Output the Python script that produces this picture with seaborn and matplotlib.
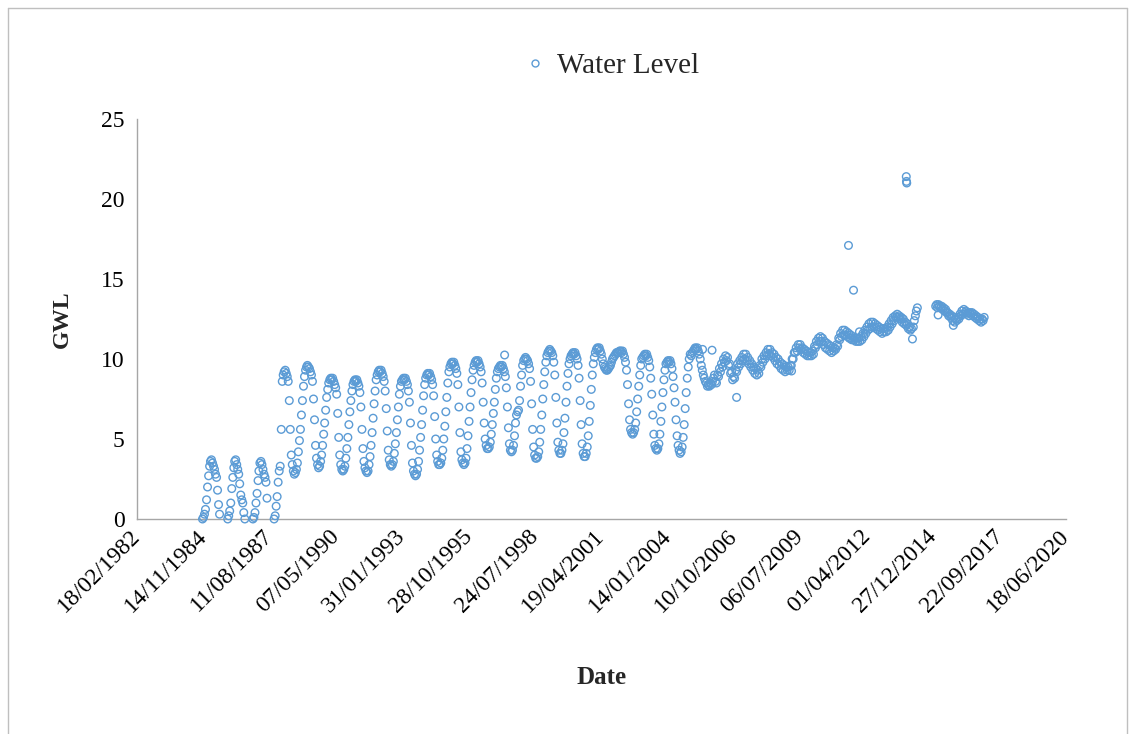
import matplotlib
matplotlib.use("Agg")
import matplotlib.pyplot as plt
from matplotlib.lines import Line2D
import numpy as np
import pandas as pd
import seaborn as sns

# ---------------- data (semi-monthly readings: 1st and 16th of each month) ----------------
READ_MONTHS = [1, 1, 2, 2, 3, 3, 4, 4, 5, 5, 6, 6, 7, 7, 8, 8, 9, 9, 10, 10, 11, 11, 12, 12]
READ_DAYS = [1, 16] * 12

gwl_1984 = [None] * 20 + [0.0, 0.1, 0.3, 0.6]
gwl_1985 = [1.2, 2.0, 2.7, 3.3, 3.6, 3.7, 3.5, 3.3, 3.1, 2.8, 2.6, 1.8, 0.9, 0.3, None, None, None, None, None, None, None, 0.0, 0.2, 0.5]
gwl_1986 = [1.0, 1.9, 2.6, 3.2, 3.6, 3.7, 3.4, 3.1, 2.8, 2.2, 1.5, 1.2, 1.0, 0.4, 0.0, None, None, None, None, None, None, None, 0.0, 0.1]
gwl_1987 = [0.4, 1.0, 1.6, 2.4, 3.0, 3.5, 3.6, 3.4, 3.1, 2.8, 2.6, 2.3, 1.3, None, None, None, None, None, None, 0.0, 0.2, 0.8, 1.4, 2.3]
gwl_1988 = [3.0, 3.3, 5.6, 8.6, 9.0, 9.2, 9.3, 9.1, 8.9, 8.6, 7.4, 5.6, 4.0, 3.4, 3.0, 2.8, 2.9, 3.1, 3.5, 4.2, 4.9, 5.6, 6.5, 7.4]
gwl_1989 = [8.3, 8.9, 9.3, 9.5, 9.6, 9.5, 9.4, 9.2, 9.0, 8.6, 7.5, 6.2, 4.6, 3.8, 3.4, 3.2, 3.3, 3.6, 4.0, 4.6, 5.3, 6.0, 6.8, 7.6]
gwl_1990 = [8.1, 8.5, 8.7, 8.8, 8.7, 8.8, 8.6, 8.4, 8.2, 7.8, 6.6, 5.1, 4.0, 3.4, 3.1, 3.0, 3.1, 3.3, 3.8, 4.4, 5.1, 5.9, 6.7, 7.4]
gwl_1991 = [8.0, 8.4, 8.6, 8.7, 8.6, 8.7, 8.5, 8.3, 7.9, 7.0, 5.6, 4.4, 3.6, 3.2, 3.0, 2.9, 3.0, 3.4, 3.9, 4.6, 5.4, 6.3, 7.2, 8.0]
gwl_1992 = [8.7, 9.0, 9.2, 9.3, 9.2, 9.3, 9.1, 8.9, 8.6, 8.0, 6.9, 5.5, 4.3, 3.7, 3.4, 3.3, 3.4, 3.6, 4.1, 4.7, 5.4, 6.2, 7.0, 7.8]
gwl_1993 = [8.3, 8.6, 8.7, 8.8, 8.7, 8.8, 8.6, 8.4, 8.0, 7.3, 6.0, 4.6, 3.5, 3.0, 2.8, 2.7, 2.8, 3.1, 3.6, 4.3, 5.1, 5.9, 6.8, 7.7]
gwl_1994 = [8.4, 8.8, 9.0, 9.1, 9.0, 9.1, 8.9, 8.7, 8.4, 7.7, 6.4, 5.0, 4.0, 3.6, 3.4, 3.4, 3.5, 3.8, 4.3, 5.0, 5.8, 6.7, 7.6, 8.5]
gwl_1995 = [9.2, 9.5, 9.7, 9.8, 9.7, 9.8, 9.6, 9.4, 9.1, 8.4, 7.0, 5.4, 4.2, 3.7, 3.5, 3.4, 3.5, 3.8, 4.4, 5.2, 6.1, 7.0, 7.9, 8.7]
gwl_1996 = [9.3, 9.6, 9.8, 9.9, 9.8, 9.9, 9.7, 9.5, 9.2, 8.5, 7.3, 6.0, 5.0, 4.6, 4.4, 4.4, 4.5, 4.8, 5.3, 5.9, 6.6, 7.3, 8.1, 8.8]
gwl_1997 = [9.2, 9.4, 9.5, 9.6, 9.5, 9.6, 9.4, 9.2, 8.9, 8.2, 7.0, 5.7, 4.7, 4.3, 4.2, 4.3, 4.6, 5.2, 6.0, 6.5, 6.7, 6.8, 7.4, 8.3]
gwl_1998 = [9.0, 9.6, 9.9, 10.0, 10.1, 10.0, 9.9, 9.7, 9.4, 8.6, 7.2, 5.6, 4.5, 4.0, 3.8, 3.8, 3.9, 4.2, 4.8, 5.6, 6.5, 7.5, 8.4, 9.2]
gwl_1999 = [9.8, 10.2, 10.4, 10.5, 10.6, 10.5, 10.4, 10.2, 9.8, 9.0, 7.6, 6.0, 4.8, 4.3, 4.1, 4.1, 4.3, 4.7, 5.4, 6.3, 7.3, 8.3, 9.1, 9.7]
gwl_2000 = [10.0, 10.2, 10.3, 10.4, 10.3, 10.4, 10.2, 10.0, 9.6, 8.8, 7.4, 5.9, 4.7, 4.1, 3.9, 3.9, 4.1, 4.5, 5.2, 6.1, 7.1, 8.1, 9.0, 9.7]
gwl_2001 = [10.1, 10.4, 10.6, 10.7, 10.6, 10.7, 10.5, 10.3, 10.0, 9.7, 9.5, 9.4, 9.3, 9.3, 9.4, 9.5, 9.6, 9.8, 10.0, 10.1, 10.2, 10.3, 10.4, 10.4]
gwl_2002 = [10.4, 10.5, 10.5, 10.4, 10.5, 10.3, 10.1, 9.8, 9.3, 8.4, 7.2, 6.2, 5.6, 5.4, 5.3, 5.4, 5.6, 6.0, 6.7, 7.5, 8.3, 9.0, 9.6, 10.0]
gwl_2003 = [10.1, 10.2, 10.3, 10.2, 10.3, 10.1, 9.9, 9.5, 8.8, 7.8, 6.5, 5.3, 4.6, 4.4, 4.3, 4.4, 4.7, 5.3, 6.1, 7.0, 7.9, 8.7, 9.3, 9.7]
gwl_2004 = [9.8, 9.9, 9.8, 9.9, 9.7, 9.4, 8.9, 8.2, 7.3, 6.2, 5.2, 4.6, 4.3, 4.1, 4.2, 4.5, 5.1, 5.9, 6.9, 7.9, 8.8, 9.5, 10.0, 10.3]
gwl_2005 = [10.2, 10.4, 10.5, 10.6, 10.7, 10.6, 10.7, 10.5, 10.3, 10.0, 9.6, 9.3, 9.0, 8.8, 8.6, 8.5, 8.3, 8.4, 8.3, 8.5, 8.4, 8.6, 8.8, 9.0]
gwl_2006 = [8.6, 8.5, 9.0, 8.9, 9.4, 9.2, 9.7, 9.5, 10.0, 9.8, 10.2, 9.9, 10.1, 9.6, 9.7, 9.1, 9.2, 8.7, 8.9, 8.8, 9.3, 9.2, 9.7, 9.5]
gwl_2007 = [9.9, 9.7, 10.1, 9.9, 10.3, 10.0, 10.3, 9.9, 10.1, 9.7, 9.9, 9.5, 9.7, 9.3, 9.5, 9.1, 9.4, 9.0, 9.3, 9.1, 9.6, 9.5, 10.0, 9.8]
gwl_2008 = [10.2, 10.0, 10.4, 10.2, 10.6, 10.3, 10.6, 10.2, 10.4, 10.1, 10.3, 9.9, 10.1, 9.7, 10.0, 9.6, 9.8, 9.4, 9.7, 9.3, 9.6, 9.2, 9.5, 9.3]
gwl_2009 = [9.5, 9.3, 9.6, 9.6, 10.0, 10.0, 10.4, 10.4, 10.7, 10.5, 10.9, 10.7, 10.9, 10.6, 10.7, 10.4, 10.6, 10.3, 10.5, 10.2, 10.4, 10.2, 10.4, 10.2]
gwl_2010 = [10.5, 10.3, 10.8, 10.7, 11.1, 10.9, 11.3, 11.1, 11.4, 11.1, 11.3, 10.9, 11.1, 10.7, 11.0, 10.6, 10.9, 10.5, 10.8, 10.4, 10.7, 10.5, 10.7, 10.6]
gwl_2011 = [10.9, 10.8, 11.3, 11.2, 11.6, 11.4, 11.8, 11.5, 11.8, 11.5, 11.7, 11.4, 11.6, 11.3, 11.5, 11.2, 11.4, 11.2, 11.3, 11.1, 11.3, 11.1, 11.3, 11.1]
gwl_2012 = [11.4, 11.2, 11.6, 11.4, 11.8, 11.6, 12.0, 11.8, 12.2, 11.9, 12.3, 12.0, 12.3, 12.0, 12.2, 11.9, 12.1, 11.8, 12.0, 11.7, 11.9, 11.6, 11.9, 11.7]
gwl_2013 = [11.9, 11.7, 12.0, 11.8, 12.2, 12.0, 12.4, 12.2, 12.6, 12.4, 12.7, 12.6, 12.8, 12.6, 12.7, 12.5, 12.6, 12.3, 12.5, 12.2, 12.3, 12.1, 12.2, 11.9]
gwl_2014 = [12.0, 11.8, 11.9, 11.25, 12.0, 12.4, 12.7, 13.0, 13.2] + [None] * 15
gwl_2015 = [None, None, 13.3, 13.4, 13.2, 13.4, 13.3, 13.2, 13.3, 13.1, 13.2, 13.0, 13.1, 12.9, 12.9, 12.7, 12.8, 12.6, 12.7, 12.4, 12.6, 12.3, 12.5, 12.4]
gwl_2016 = [12.6, 12.5, 12.8, 12.7, 13.0, 12.8, 13.1, 12.9, 13.0, 12.8, 12.9, 12.7, 12.9, 12.8, 12.9, 12.7, 12.8, 12.6, 12.7, 12.5, 12.6, 12.4, 12.5, 12.3]
gwl_2017 = [12.5, 12.4, 12.6] + [None] * 21

# isolated readings (spikes / off-trend values)
extra_dates = ["1997-04-20", "2005-06-20", "2005-11-10", "2006-11-15", "2009-02-20", "2011-06-28",
               "2011-07-12", "2011-09-12", "2011-12-10", "2013-11-15", "2013-11-18", "2013-11-22",
               "2015-03-10", "2015-10-25"]
extra_values = [10.25, 10.6, 10.55, 7.6, 9.25, 17.1, 11.3, 14.3, 11.7, 21.4, 21.1, 21.0, 12.75, 12.1]

years_data = {
    1984: gwl_1984, 1985: gwl_1985, 1986: gwl_1986, 1987: gwl_1987, 1988: gwl_1988,
    1989: gwl_1989, 1990: gwl_1990, 1991: gwl_1991, 1992: gwl_1992, 1993: gwl_1993,
    1994: gwl_1994, 1995: gwl_1995, 1996: gwl_1996, 1997: gwl_1997, 1998: gwl_1998,
    1999: gwl_1999, 2000: gwl_2000, 2001: gwl_2001, 2002: gwl_2002, 2003: gwl_2003,
    2004: gwl_2004, 2005: gwl_2005, 2006: gwl_2006, 2007: gwl_2007, 2008: gwl_2008,
    2009: gwl_2009, 2010: gwl_2010, 2011: gwl_2011, 2012: gwl_2012, 2013: gwl_2013,
    2014: gwl_2014, 2015: gwl_2015, 2016: gwl_2016, 2017: gwl_2017,
}

x_tick_start = "1982-02-18"
x_tick_step_days = 1000
x_tick_count = 15
y_ticks = [0, 5, 10, 15, 20, 25]

# ---------------- build table ----------------
rows = []
for yr, vals in years_data.items():
    for m, d, v in zip(READ_MONTHS, READ_DAYS, vals):
        if v is not None:
            rows.append((pd.Timestamp(yr, m, d), v))
for ds, v in zip(extra_dates, extra_values):
    rows.append((pd.Timestamp(ds), v))
df = pd.DataFrame(rows, columns=["Date", "GWL"]).sort_values("Date")

# ---------------- plot ----------------
sns.set_theme(style="white")
plt.rcParams["font.family"] = ["Liberation Serif", "DejaVu Serif"]

W, H = 1134, 734
fig = plt.figure(figsize=(W / 100, H / 100), dpi=100)
L, R, T, B = 137, 1066, 119, 519
ax = fig.add_axes([L / W, 1 - B / H, (R - L) / W, (B - T) / H])

blue = "#5B9BD5"
sns.scatterplot(data=df, x="Date", y="GWL", ax=ax, marker="o", s=30,
                facecolor="none", edgecolor=blue, linewidth=1.0, legend=False,
                clip_on=False, zorder=3)
for coll in ax.collections:
    coll.set_facecolor("none")
    coll.set_edgecolor(blue)

ticks = pd.date_range(x_tick_start, periods=x_tick_count, freq=f"{x_tick_step_days}D")
ax.set_xlim(ticks[0], ticks[-1])
ax.set_ylim(0, 25)
ax.set_yticks(y_ticks)
ax.set_yticklabels([str(t) for t in y_ticks], fontsize=17)
ax.set_xticks(ticks)
ax.set_xticklabels([t.strftime("%d/%m/%Y") for t in ticks], rotation=45, ha="right",
                   va="center", rotation_mode="anchor", fontsize=17)

gray = "#A6A6A6"
for s in ["top", "right"]:
    ax.spines[s].set_visible(False)
for s in ["left", "bottom"]:
    ax.spines[s].set_color(gray)
    ax.spines[s].set_linewidth(1.0)
ax.tick_params(axis="both", which="major", direction="out", length=6, width=1.0,
               color=gray, labelcolor="black")
ax.tick_params(axis="x", pad=4)
ax.tick_params(axis="y", pad=3)
ax.grid(False)

ax.set_xlabel("Date", fontsize=18, fontweight="bold")
ax.set_ylabel("GWL", fontsize=17, fontweight="bold")
ax.xaxis.set_label_coords((602 - L) / (R - L), (B - 666) / (B - T))
ax.yaxis.set_label_coords((73 - L) / (R - L), 0.5)

handle = Line2D([], [], linestyle="none", marker="o", markersize=5,
                markerfacecolor="none", markeredgecolor=blue, markeredgewidth=1.0)
fig.legend([handle], ["Water Level"], loc="center", bbox_to_anchor=(610 / W, 1 - 66 / H),
           frameon=False, fontsize=21, handletextpad=0.25, handlelength=1.0)

# figure frame
frame_c = "#BFBFBF"
fig.add_artist(Line2D([8 / W, 8 / W], [0, 1 - 8 / H], transform=fig.transFigure, color=frame_c, lw=1))
fig.add_artist(Line2D([8 / W, 1127 / W], [1 - 8 / H, 1 - 8 / H], transform=fig.transFigure, color=frame_c, lw=1))
fig.add_artist(Line2D([1127 / W, 1127 / W], [0, 1 - 8 / H], transform=fig.transFigure, color=frame_c, lw=1))

fig.savefig("out.png", dpi=100, facecolor="white")
